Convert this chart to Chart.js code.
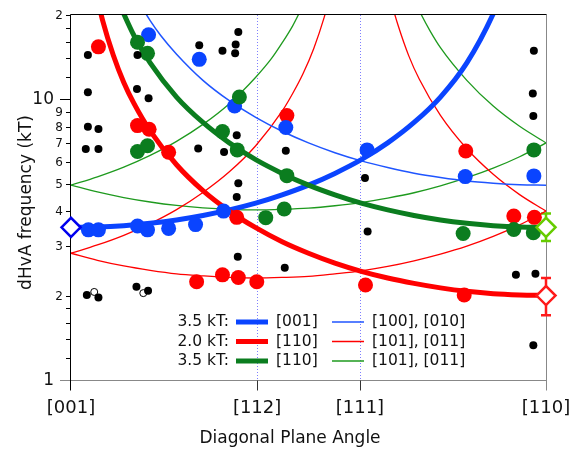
<!DOCTYPE html>
<html>
<head>
<meta charset="utf-8">
<script src="https://cdn.jsdelivr.net/npm/chart.js@4"></script>
<style>
  html, body { margin: 0; padding: 0; background: #fff; }
  canvas { display: block; }
</style>
</head>
<body>
<canvas id="chart" width="581" height="449"></canvas>
<script>
// axis ticks
const xTickAngles = [0, 35.26, 54.74, 90];
const xTickLabels = ['[001]', '[112]', '[111]', '[110]'];
const yTickValues = [1, 1.2, 1.4, 1.6, 1.8, 2, 3, 4, 5, 6, 7, 8, 9, 10, 12, 14, 16, 18, 20];
const yTickLabels = ['1', '', '', '', '', '2', '3', '4', '5', '6', '7', '8', '9', '10', '', '', '', '', '2'];

// fitted curves, [angle (deg), frequency (kT)]
const fit001 = [[0,3.50],[5,3.51],[10,3.55],[15,3.62],[20,3.72],[25,3.86],[30,4.04],[35,4.27],[40,4.57],[45,4.95],[50,5.45],[55,6.10],[60,7.00],[65,8.28],[70,10.2],[75,13.5],[80,20.2],[82,25.1]];
const fit110Red = [[5,22.9],[6,19.1],[8,14.4],[10,11.5],[12,9.62],[15,7.73],[20,5.85],[25,4.73],[30,4.00],[35,3.49],[40,3.11],[45,2.83],[50,2.61],[55,2.44],[60,2.31],[65,2.21],[70,2.13],[75,2.07],[80,2.03],[85,2.01],[90,2.00]];
const fit110Green = [[9,22.4],[10,20.2],[12,16.8],[15,13.5],[20,10.2],[25,8.28],[30,7.00],[35,6.10],[40,5.45],[45,4.95],[50,4.57],[55,4.27],[60,4.04],[65,3.86],[70,3.72],[75,3.62],[80,3.55],[85,3.51],[90,3.50]];
const fit100 = [[13,22.0],[15,19.1],[17,16.9],[20,14.5],[25,11.7],[30,9.90],[35,8.63],[40,7.70],[45,7.00],[50,6.46],[55,6.04],[60,5.72],[65,5.46],[70,5.27],[75,5.12],[80,5.03],[85,4.97],[90,4.95]];
const fit101RedLow = [[0,2.83],[5,2.67],[10,2.55],[15,2.46],[20,2.39],[25,2.35],[30,2.32],[35,2.31],[40,2.32],[45,2.34],[50,2.39],[55,2.45],[60,2.54],[65,2.66],[70,2.81],[75,3.00],[80,3.25],[85,3.57],[90,4.00]];
const fit101RedUpL = [[0,2.83],[5,3.03],[10,3.28],[15,3.61],[20,4.05],[25,4.66],[30,5.52],[35,6.84],[40,9.08],[42,10.5],[44,12.4],[46,15.2],[48,19.7],[49,23.1]];
const fit101RedUpR = [[60,25.2],[61,21.2],[62,18.3],[64,14.3],[66,11.8],[70,8.77],[75,6.67],[80,5.41],[85,4.58],[90,4.00]];
const fit101GreenLow = [[0,4.95],[5,4.68],[10,4.47],[15,4.31],[20,4.19],[25,4.11],[30,4.06],[35,4.04],[40,4.06],[45,4.10],[50,4.18],[55,4.29],[60,4.45],[65,4.65],[70,4.92],[75,5.26],[80,5.69],[85,6.25],[90,7.00]];
const fit101GreenUpL = [[0,4.95],[5,5.30],[10,5.74],[15,6.32],[20,7.09],[25,8.15],[30,9.66],[35,12.0],[38,14.0],[40,15.9],[42,18.3],[44,21.7]];
const fit101GreenUpR = [[63,28.1],[65,22.7],[66,20.7],[68,17.6],[70,15.3],[75,11.7],[80,9.47],[85,8.02],[90,7.00]];

// measured orbits
const blackDots = [[3.2,14.4],[12.6,14.4],[3.2,10.6],[12.5,10.9],[14.7,10.1],[3.2,8.0],[5.2,7.85],[2.8,6.66],[5.2,6.66],[3.0,2.01],[5.2,1.97],[12.4,2.15],[14.6,2.08],
  [31.7,17.4],[24.3,15.6],[31.2,15.7],[28.7,14.9],[31.1,14.6],[31.4,7.45],[24.1,6.68],[29.0,6.50],[40.7,6.57],[31.7,5.03],[31.4,4.49],[31.6,2.75],[40.5,2.51],
  [55.7,5.25],[56.2,3.38],[87.7,14.9],[87.5,10.5],[87.6,8.73],[84.3,2.37],[88.0,2.39],[87.6,1.33]];
const openDots = [[4.4,2.06],[13.7,2.04]];
const redDots = [[5.2,15.4],[12.6,8.07],[14.8,7.83],[18.5,6.48],[23.8,2.24],[28.7,2.37],[31.7,2.32],[35.2,2.24],[31.4,3.80],[40.9,8.76],[55.8,2.18],[74.8,6.55],[74.5,2.01],[83.9,3.84],[87.8,3.80]];
const blueDots = [[14.7,17.0],[24.3,13.9],[31.0,9.48],[40.7,7.94],[56.1,6.61],[74.7,5.31],[87.7,5.34],[3.3,3.43],[5.2,3.43],[12.6,3.54],[14.5,3.43],[18.5,3.47],[23.6,3.58],[28.9,4.0]];
const greenDots = [[12.6,16.0],[14.5,14.6],[12.6,6.52],[14.5,6.84],[31.9,10.2],[28.7,7.68],[31.5,6.61],[40.9,5.35],[40.4,4.07],[36.9,3.79],[87.7,6.61],[74.3,3.33],[83.9,3.44],[87.6,3.35]];

// end-point values with error bars
const blueEnd = [0, 3.5];
const redEnd = [90, 2.0];
const redErr = [1.70, 2.31];
const greenEnd = [90, 3.5];
const greenErr = [3.13, 3.92];

const legendRows = [
  ['3.5 kT:', '[001]', '[100], [010]', '#0a44ff', '#1f55ff'],
  ['2.0 kT:', '[110]', '[101], [011]', '#ff0000', '#ff0000'],
  ['3.5 kT:', '[110]', '[101], [011]', '#0b7d1f', '#1e9a1e']
];

const FONT = '"DejaVu Sans", sans-serif';
const pts = arr => arr.map(([x, y]) => ({ x, y }));

function curve(data, color, width, order) {
  return {
    data: pts(data), showLine: true, borderColor: color, borderWidth: width,
    pointRadius: 0, pointHoverRadius: 0, cubicInterpolationMode: 'monotone', fill: false, order
  };
}

function dots(data, color, radius, order, border) {
  return {
    data: pts(data), showLine: false, pointRadius: radius, pointHoverRadius: radius,
    pointBackgroundColor: color, pointBorderColor: border || color, pointBorderWidth: border ? 1 : 0,
    clip: false, order
  };
}

function diamond(pt, color) {
  return {
    data: pts([pt]), showLine: false, pointStyle: 'rectRot', pointRadius: 9.5, pointHoverRadius: 9.5,
    pointBackgroundColor: '#fff', pointBorderColor: color, pointBorderWidth: 2.5, clip: false, order: 0
  };
}

const decor = {
  id: 'decor',
  beforeDatasetsDraw(chart) {
    const { ctx, chartArea: a, scales: { x, y } } = chart;
    ctx.save();
    // dotted guides at [112] and [111]
    ctx.strokeStyle = '#7f7fff';
    ctx.lineWidth = 1;
    ctx.setLineDash([1, 2]);
    [xTickAngles[1], xTickAngles[2]].forEach(v => {
      const px = Math.round(x.getPixelForValue(v)) + 0.5;
      ctx.beginPath(); ctx.moveTo(px, a.top); ctx.lineTo(px, a.bottom); ctx.stroke();
    });
    ctx.setLineDash([]);

    // frame
    const L = Math.round(a.left) - 0.5, R = Math.round(a.right) + 0.5;
    const T = Math.round(a.top) - 0.5, B = Math.round(a.bottom) + 0.5;
    ctx.strokeStyle = '#888';
    ctx.beginPath(); ctx.moveTo(60, B); ctx.lineTo(R, B); ctx.stroke();
    ctx.beginPath(); ctx.moveTo(R, T); ctx.lineTo(R, B + 10); ctx.stroke();
    ctx.strokeStyle = '#000';
    ctx.beginPath(); ctx.moveTo(L, T); ctx.lineTo(R, T); ctx.stroke();
    ctx.beginPath(); ctx.moveTo(L, T); ctx.lineTo(L, B + 10); ctx.stroke();
    ctx.strokeStyle = '#333';
    [xTickAngles[1], xTickAngles[2]].forEach(v => {
      const px = Math.round(x.getPixelForValue(v)) + 0.5;
      ctx.beginPath(); ctx.moveTo(px, B); ctx.lineTo(px, B + 10); ctx.stroke();
    });

    // y ticks and labels
    ctx.strokeStyle = '#000';
    ctx.fillStyle = '#111';
    ctx.textBaseline = 'middle';
    ctx.textAlign = 'right';
    yTickValues.forEach((v, i) => {
      const py = Math.round(y.getPixelForValue(v)) + 0.5;
      const major = v === 1 || v === 10;
      if (v !== 1) {
        ctx.beginPath(); ctx.moveTo(major ? 60 : 66, py); ctx.lineTo(L, py); ctx.stroke();
      }
      const lab = yTickLabels[i];
      if (!lab) return;
      ctx.font = major ? `17px ${FONT}` : `12px ${FONT}`;
      ctx.fillText(lab, major ? 54 : 63, py);
    });

    // x tick labels
    ctx.textAlign = 'center';
    ctx.font = `18px ${FONT}`;
    xTickAngles.forEach((v, i) => ctx.fillText(xTickLabels[i], x.getPixelForValue(v), 408));

    // axis titles
    ctx.font = `17px ${FONT}`;
    ctx.textBaseline = 'alphabetic';
    ctx.fillText('Diagonal Plane Angle', 290, 443);
    ctx.save();
    ctx.translate(30.5, 202.5);
    ctx.rotate(-Math.PI / 2);
    ctx.fillText('dHvA frequency (kT)', 0, 0);
    ctx.restore();

    // error bars on end points
    [[redEnd, redErr, '#ff1a1a'], [greenEnd, greenErr, '#66cc00']].forEach(([p, e, c]) => {
      const px = x.getPixelForValue(p[0]);
      const y0 = y.getPixelForValue(e[0]), y1 = y.getPixelForValue(e[1]);
      ctx.strokeStyle = c;
      ctx.lineWidth = 2.5;
      ctx.beginPath();
      ctx.moveTo(px, y0); ctx.lineTo(px, y1);
      ctx.moveTo(px - 5, y0); ctx.lineTo(px + 5, y0);
      ctx.moveTo(px - 5, y1); ctx.lineTo(px + 5, y1);
      ctx.stroke();
    });

    // legend
    ctx.lineWidth = 1;
    ctx.font = `15.5px ${FONT}`;
    ctx.textBaseline = 'middle';
    ctx.fillStyle = '#111';
    legendRows.forEach((r, i) => {
      const ly = 322 + i * 19.5;
      ctx.textAlign = 'right';
      ctx.fillText(r[0], 229, ly);
      ctx.textAlign = 'left';
      ctx.fillText(r[1], 276, ly);
      ctx.fillText(r[2], 372, ly);
      ctx.strokeStyle = r[3]; ctx.lineWidth = 5;
      ctx.beginPath(); ctx.moveTo(236, ly); ctx.lineTo(268, ly); ctx.stroke();
      ctx.strokeStyle = r[4]; ctx.lineWidth = 1.5;
      ctx.beginPath(); ctx.moveTo(332, ly); ctx.lineTo(364, ly); ctx.stroke();
    });
    ctx.restore();
  }
};

new Chart(document.getElementById('chart'), {
  type: 'scatter',
  data: {
    datasets: [
      curve(fit100, '#1f55ff', 1.5, 8),
      curve(fit101RedLow, '#ff0000', 1.3, 8),
      curve(fit101RedUpL, '#ff0000', 1.3, 8),
      curve(fit101RedUpR, '#ff0000', 1.3, 8),
      curve(fit101GreenLow, '#1e9a1e', 1.3, 8),
      curve(fit101GreenUpL, '#1e9a1e', 1.3, 8),
      curve(fit101GreenUpR, '#1e9a1e', 1.3, 8),
      curve(fit110Red, '#ff0000', 5, 7),
      curve(fit110Green, '#0b7d1f', 5, 7),
      curve(fit001, '#0a44ff', 5, 7),
      dots(redDots, '#ff0000', 7.5, 5),
      dots(blueDots, '#0a44ff', 7.5, 4),
      dots(greenDots, '#0b7d1f', 7.5, 3),
      dots(blackDots, '#000', 4, 2),
      dots(openDots, '#fff', 3.5, 2, '#000'),
      diamond(blueEnd, '#0000ee'),
      diamond(redEnd, '#ff1a1a'),
      diamond(greenEnd, '#66cc00')
    ]
  },
  options: {
    responsive: false,
    animation: false,
    devicePixelRatio: 1,
    events: [],
    layout: { padding: { left: 0, top: 15, right: 35, bottom: 0 } },
    elements: { line: { capBezierPoints: false } },
    scales: {
      x: {
        type: 'linear', min: 0, max: 90,
        grid: { display: false }, border: { display: false }, ticks: { display: false },
        afterFit: s => { s.height = 69; }
      },
      y: {
        type: 'logarithmic', min: 1, max: 20,
        grid: { display: false }, border: { display: false }, ticks: { display: false },
        afterFit: s => { s.width = 71; }
      }
    },
    plugins: {
      legend: { display: false },
      tooltip: { enabled: false }
    }
  },
  plugins: [decor]
});
</script>
</body>
</html>
